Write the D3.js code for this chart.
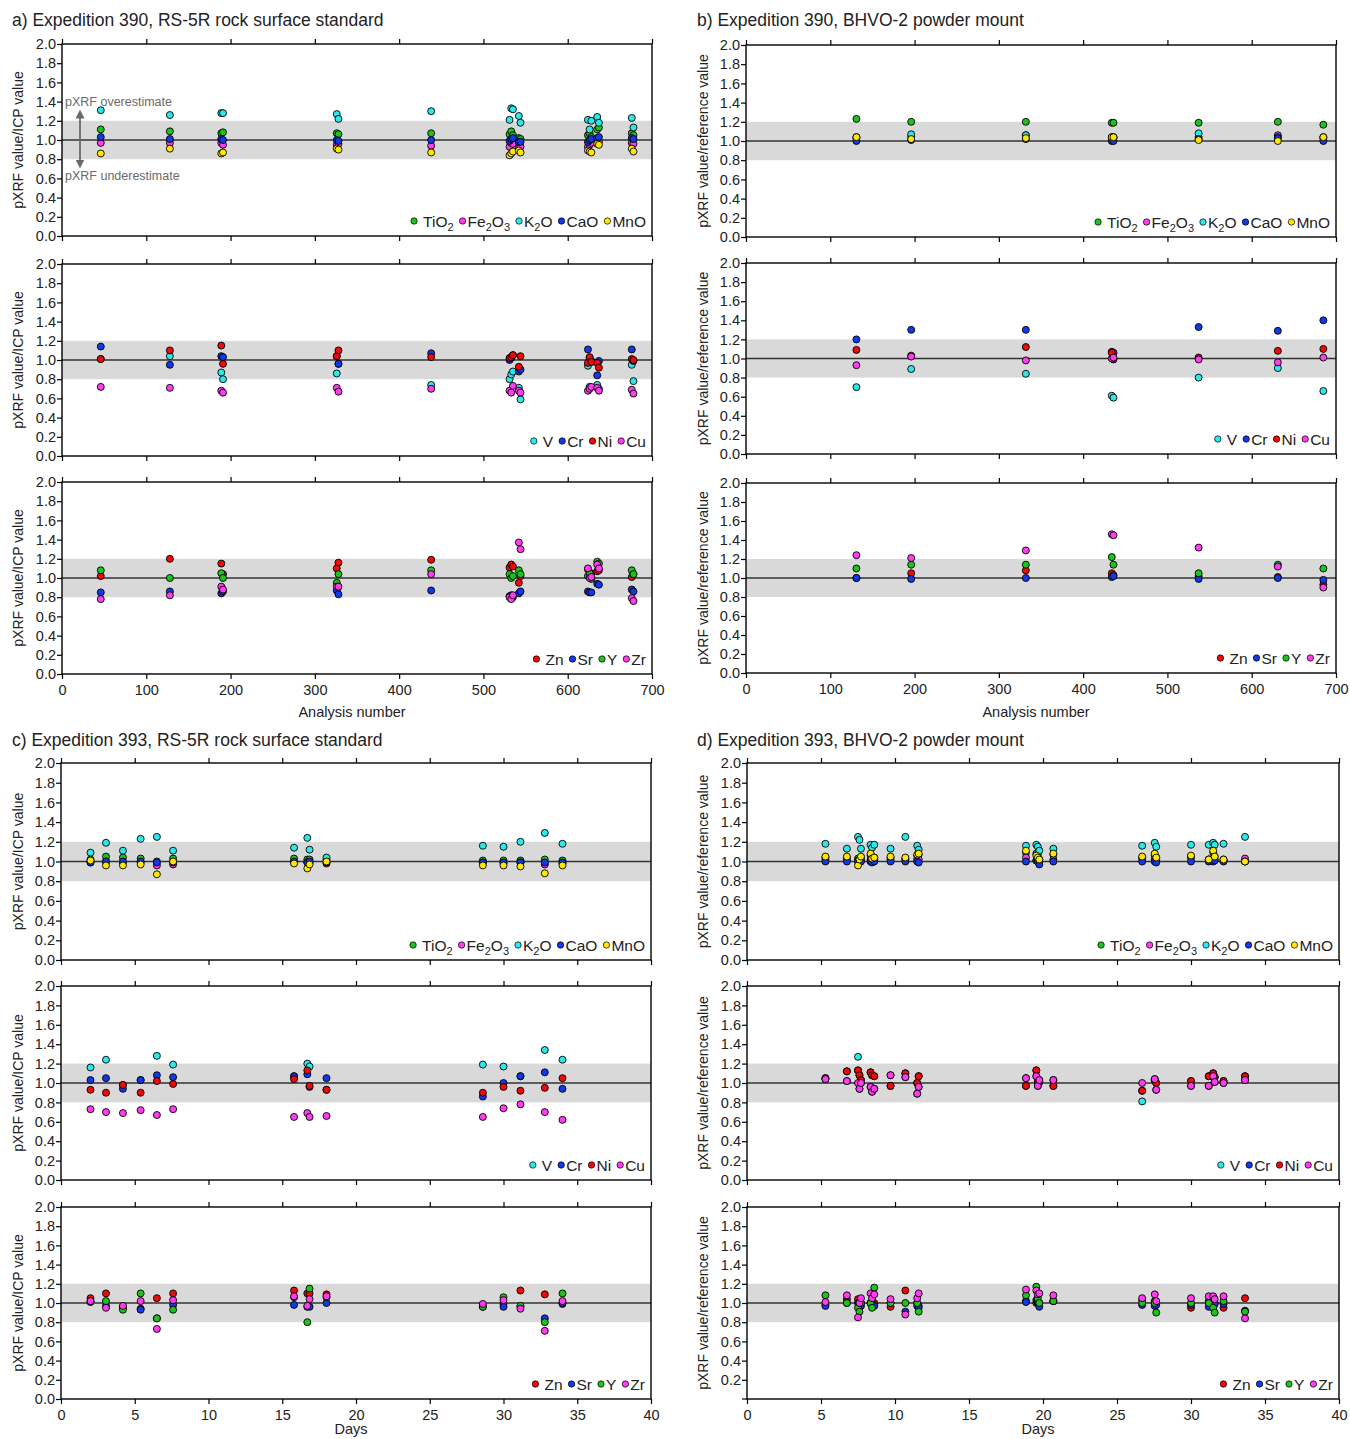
<!DOCTYPE html>
<html>
<head>
<meta charset="utf-8">
<script src="https://cdn.jsdelivr.net/npm/d3@7"></script>
<style>
body{margin:0;background:#fff;}
text{font-family:"Liberation Sans",Arial,Helvetica,sans-serif;fill:#222;}
</style>
</head>
<body>
<svg id="chart" width="1350" height="1439"></svg>
<script>
// ---- Expedition 390, RS-5R (analysis number) ----
let a390x = [46,128,189,191,326,328,438,531,533,535,542,544,624,626,628,635,637,676,678];
let a390TiO2 = [1.11,1.09,1.07,1.08,1.07,1.06,1.07,1.06,1.09,1.05,1.02,1.01,1.05,1.07,1.03,1.11,1.13,1.07,1.05];
let a390Fe2O3 = [0.97,0.97,0.97,0.95,0.95,0.96,0.94,0.93,0.97,0.96,0.92,0.93,0.93,0.95,0.97,0.99,0.98,0.97,0.96];
let a390K2O = [1.31,1.26,1.28,1.28,1.27,1.22,1.30,1.21,1.33,1.32,1.25,1.18,1.21,1.11,1.20,1.24,1.18,1.23,1.13];
let a390CaO = [1.03,1.01,1.01,1.00,1.00,0.99,1.00,0.99,1.01,1.02,0.98,0.98,0.98,1.00,1.01,1.02,1.03,1.02,1.01];
let a390MnO = [0.86,0.91,0.86,0.87,0.91,0.90,0.87,0.84,0.86,0.88,0.89,0.87,0.89,0.88,0.87,0.96,0.95,0.91,0.88];
let a390V = [1.01,1.04,0.87,0.80,0.86,0.96,0.74,0.80,0.85,0.88,0.71,0.59,0.94,0.72,0.98,0.74,0.70,0.95,0.78];
let a390Cr = [1.14,0.95,1.04,1.03,1.04,0.96,1.07,1.00,1.02,1.05,0.88,0.90,1.11,1.02,0.99,0.84,0.99,1.11,0.99];
let a390Ni = [1.01,1.10,1.15,0.96,1.04,1.10,1.03,1.02,1.03,1.05,0.93,1.04,0.97,1.03,0.98,0.97,0.92,1.01,1.00];
let a390Cu = [0.72,0.71,0.68,0.66,0.71,0.67,0.70,0.68,0.66,0.73,0.68,0.66,0.68,0.70,0.72,0.71,0.68,0.69,0.65];
let a390Zn = [1.02,1.20,1.15,1.04,1.10,1.16,1.19,1.11,1.14,1.12,0.95,1.02,1.09,1.02,1.05,1.07,1.08,1.01,1.04];
let a390Sr = [0.85,0.86,0.84,0.86,0.87,0.83,0.87,0.81,0.82,0.80,0.84,0.86,0.86,0.85,0.85,0.94,0.93,0.88,0.86];
let a390Y = [1.08,1.00,1.05,1.00,0.95,1.04,1.08,1.04,1.00,1.02,1.08,1.04,1.02,1.05,0.99,1.17,1.15,1.08,1.04];
let a390Zr = [0.78,0.82,0.91,0.88,0.91,0.91,1.04,0.80,0.78,0.82,1.37,1.30,1.10,1.00,1.01,1.14,1.10,0.79,0.76];

// ---- Expedition 390, BHVO-2 (analysis number) ----
let b390x = [131,196,332,434,436,537,631,685];
let b390TiO2 = [1.23,1.20,1.20,1.19,1.19,1.19,1.20,1.17];
let b390Fe2O3 = [1.03,1.05,1.06,1.03,1.03,1.04,1.06,1.03];
let b390K2O = [1.04,1.07,1.06,1.04,1.04,1.08,1.04,1.04];
let b390CaO = [1.00,1.01,1.02,1.00,1.00,1.02,1.03,1.00];
let b390MnO = [1.04,1.02,1.03,1.04,1.04,1.01,1.00,1.04];
let b390V = [0.70,0.89,0.84,0.61,0.59,0.80,0.90,0.66];
let b390Cr = [1.20,1.30,1.30,1.07,1.06,1.33,1.29,1.40];
let b390Ni = [1.09,1.03,1.12,1.06,0.99,1.01,1.08,1.10];
let b390Cu = [0.93,1.02,0.98,1.00,1.01,0.99,0.96,1.01];
let b390Zn = [1.00,1.05,1.08,1.05,1.03,1.02,1.01,0.93];
let b390Sr = [1.00,0.99,1.00,1.01,1.02,0.99,1.00,0.98];
let b390Y = [1.10,1.14,1.14,1.22,1.14,1.05,1.14,1.10];
let b390Zr = [1.24,1.21,1.29,1.46,1.45,1.32,1.12,0.90];

// ---- Expedition 393, RS-5R (days) ----
let c393days = [2.0,3.05,4.2,5.4,6.5,7.6,15.8,16.7,16.85,18.0,28.6,30.0,31.15,32.8,34.0];
let c393TiO2 = [1.02,1.05,1.04,1.03,1.00,1.03,1.03,1.02,1.02,1.02,1.01,1.01,1.01,1.02,1.01];
let c393Fe2O3 = [0.99,1.00,0.99,0.99,0.96,0.97,0.99,0.99,0.98,0.98,0.99,0.98,0.99,0.97,0.98];
let c393K2O = [1.09,1.19,1.11,1.23,1.25,1.11,1.14,1.24,1.12,1.04,1.16,1.15,1.20,1.29,1.18];
let c393CaO = [0.99,1.00,1.00,1.00,0.99,0.99,1.00,0.99,1.00,0.99,0.99,0.99,0.99,0.99,0.99];
let c393MnO = [1.01,0.96,0.96,0.97,0.87,1.00,0.98,0.93,0.97,1.00,0.96,0.96,0.95,0.88,0.96];
let c393V = [1.16,1.24,0.98,1.03,1.28,1.19,1.07,1.20,1.17,0.93,1.19,1.17,1.07,1.34,1.24];
let c393Cr = [1.03,1.05,0.94,1.03,1.08,1.06,1.07,1.09,0.96,1.05,0.86,1.00,1.07,1.11,0.94];
let c393Ni = [0.93,0.90,0.98,0.90,1.02,0.99,1.04,1.13,0.97,0.93,0.90,0.96,0.92,0.95,1.05];
let c393Cu = [0.73,0.70,0.69,0.72,0.67,0.73,0.65,0.69,0.65,0.66,0.65,0.74,0.78,0.70,0.62];
let c393Zn = [1.05,1.10,0.96,0.94,1.05,1.10,1.13,1.10,1.10,1.09,0.97,0.99,1.13,1.09,0.99];
let c393Sr = [1.01,0.97,0.95,0.93,0.84,0.98,0.98,0.96,0.96,1.00,0.96,0.96,0.96,0.84,1.00];
let c393Y = [1.02,1.02,0.93,1.10,0.84,0.93,1.06,0.80,1.15,1.06,0.96,1.06,0.97,0.80,1.10];
let c393Zr = [1.02,0.95,0.97,1.02,0.73,1.03,1.07,0.97,1.04,1.07,0.99,1.03,0.94,0.71,1.02];

// ---- Expedition 393, BHVO-2 (days) ----
let d393days = [5.3,6.75,7.5,7.6,7.7,8.35,8.45,8.6,9.7,10.7,11.5,11.6,18.85,19.55,19.65,19.75,20.7,26.7,27.55,27.65,30.0,31.2,31.5,31.6,32.2,33.65];
let d393TiO2 = [1.04,1.04,1.03,1.02,1.04,1.06,1.05,1.04,1.04,1.03,1.06,1.07,1.09,1.08,1.07,1.02,1.07,1.04,1.06,1.04,1.05,1.02,1.09,1.05,1.02,1.00];
let d393Fe2O3 = [1.02,1.02,1.01,1.02,1.02,1.02,1.01,1.02,1.02,1.02,1.02,1.02,1.04,1.01,1.02,1.00,1.02,1.03,1.02,1.02,1.04,1.02,1.03,1.02,1.01,1.03];
let d393K2O = [1.18,1.13,1.25,1.22,1.13,1.17,1.14,1.17,1.13,1.25,1.16,1.12,1.16,1.17,1.15,1.11,1.13,1.16,1.19,1.15,1.17,1.17,1.19,1.17,1.18,1.25];
let d393CaO = [1.00,1.00,1.00,0.99,1.00,1.00,0.99,1.00,1.00,1.00,1.00,0.99,1.00,1.01,1.00,0.97,1.00,1.00,1.00,0.99,1.00,1.00,1.00,1.01,1.00,1.00];
let d393MnO = [1.05,1.05,0.96,1.02,1.05,1.08,1.03,1.04,1.05,1.04,1.07,1.08,1.11,1.06,1.04,1.02,1.08,1.05,1.08,1.04,1.06,1.02,1.11,1.05,1.02,1.00];
let d393V = [1.04,1.02,1.27,0.94,1.00,0.96,0.91,0.94,1.08,1.06,0.89,0.96,1.05,1.07,0.97,1.03,1.03,0.81,1.04,0.93,0.97,0.97,1.07,1.01,1.00,1.03];
let d393Cr = [1.05,1.12,1.13,1.08,1.03,1.11,1.08,1.07,0.97,1.10,1.00,1.07,0.97,1.13,1.01,1.01,0.97,0.92,1.03,1.00,1.02,1.07,1.10,1.06,1.02,1.07];
let d393Ni = [1.05,1.12,1.13,1.08,1.03,1.11,1.08,1.07,0.97,1.10,1.00,1.07,0.97,1.13,1.01,1.01,0.97,0.92,1.03,1.00,1.02,1.07,1.10,1.06,1.02,1.07];
let d393Cu = [1.04,1.02,1.00,0.94,1.00,0.96,0.91,0.94,1.08,1.06,0.89,0.96,1.05,1.07,0.97,1.03,1.03,1.00,1.04,0.93,0.97,0.97,1.07,1.01,1.00,1.03];
let d393Zn = [0.98,1.04,1.04,0.99,1.00,1.00,1.00,1.00,0.96,1.13,1.00,0.97,1.02,1.00,1.00,1.00,1.02,1.03,1.02,1.00,0.95,1.02,1.00,1.00,0.95,1.05];
let d393Sr = [0.97,1.00,1.00,1.00,0.97,1.00,1.00,0.97,1.00,0.91,0.97,0.95,1.01,1.03,1.01,0.96,1.02,0.98,0.97,0.98,0.98,0.96,0.98,0.99,0.99,0.92];
let d393Y = [1.08,1.00,0.95,0.91,1.00,1.00,0.95,1.16,1.00,1.00,1.00,0.91,1.08,1.17,1.05,1.00,1.02,1.00,1.00,0.90,1.00,1.00,0.95,0.90,1.02,0.91];
let d393Zr = [1.01,1.08,0.85,1.00,1.05,1.10,1.05,1.09,1.04,0.88,1.05,1.10,1.14,1.13,1.09,1.10,1.08,1.05,1.09,1.02,1.05,1.07,1.07,1.04,1.07,0.84];

let analysisTicks = [0,100,200,300,400,500,600,700];
let dayTicks = [0,5,10,15,20,25,30,35,40];
let yTicks = [0,0.2,0.4,0.6,0.8,1.0,1.2,1.4,1.6,1.8,2.0];

let cGreen='#1dc21d', cMagenta='#ff3cf0', cCyan='#2de8ea', cBlue='#1238e8', cYellow='#ffe800', cRed='#ee0a0a';

let svg = d3.select('#chart');

function majors(p){
    return [
        {label:'TiO_2',color:cGreen,v:p.TiO2},
        {label:'Fe_2O_3',color:cMagenta,v:p.Fe2O3},
        {label:'K_2O',color:cCyan,v:p.K2O},
        {label:'CaO',color:cBlue,v:p.CaO},
        {label:'MnO',color:cYellow,v:p.MnO}];
}
function transition(p){
    return [
        {label:'V',color:cCyan,v:p.V},
        {label:'Cr',color:cBlue,v:p.Cr},
        {label:'Ni',color:cRed,v:p.Ni},
        {label:'Cu',color:cMagenta,v:p.Cu}];
}
function traces(p){
    return [
        {label:'Zn',color:cRed,v:p.Zn},
        {label:'Sr',color:cBlue,v:p.Sr},
        {label:'Y',color:cGreen,v:p.Y},
        {label:'Zr',color:cMagenta,v:p.Zr}];
}

function addLabel(sel,label){ // label with _n subscripts
    let parts = label.split(/_(\d)/);
    parts.forEach((s,i)=>{
        if(!s) return;
        if(i%2===1){
            sel.append('tspan').attr('dy',4.5).attr('font-size',11).text(s);
        } else {
            let t = sel.append('tspan').text(s);
            if(i>0) t.attr('dy',-4.5);
        }
    });
}

function drawPanel(cfg){
    let {left,right,top,bottom} = cfg;
    let g = svg.append('g');
    let x = d3.scaleLinear().domain(cfg.xDomain).range([left,right]);
    let y = d3.scaleLinear().domain([0,2]).range([bottom,top]);

    // tolerance band and 1:1 line
    g.append('rect').attr('x',left).attr('width',right-left)
        .attr('y',y(1.2)).attr('height',y(0.8)-y(1.2)).attr('fill','#d9d9d9');
    g.append('line').attr('x1',left).attr('x2',right).attr('y1',y(1)).attr('y2',y(1))
        .attr('stroke','#333').attr('stroke-width',1.4);

    // axes
    let ya = g.append('g').attr('transform',`translate(${left},0)`)
        .call(d3.axisLeft(y).tickValues(cfg.noZero ? yTicks.slice(1) : yTicks)
            .tickFormat(d3.format('.1f')).tickSize(5).tickPadding(1));
    if(cfg.noZero){
        g.append('line').attr('x1',left-5).attr('x2',left).attr('y1',bottom).attr('y2',bottom)
            .attr('stroke','#000').attr('stroke-width',1.2);
    }
    let xb = g.append('g').attr('transform',`translate(0,${bottom})`)
        .call(d3.axisBottom(x).tickValues(cfg.xTicks).tickSize(5).tickPadding(6)
            .tickFormat(cfg.xLabels ? d3.format('d') : ''));
    let xt = g.append('g').attr('transform',`translate(0,${top})`)
        .call(d3.axisTop(x).tickValues(cfg.xTicks).tickSize(5).tickFormat(''));
    [ya,xb,xt].forEach(a=>{
        a.select('.domain').remove();
        a.selectAll('line').attr('stroke','#000').attr('stroke-width',1.2);
        a.selectAll('text').attr('font-size',14.5).attr('fill','#222')
            .attr('font-family','"Liberation Sans",Arial,sans-serif');
    });
    g.append('rect').attr('x',left).attr('y',top).attr('width',right-left).attr('height',bottom-top)
        .attr('fill','none').attr('stroke','#000').attr('stroke-width',1.4);

    // points
    cfg.series.forEach(s=>{
        g.append('g').selectAll('circle').data(s.v).join('circle')
            .attr('cx',(d,i)=>x(cfg.xs[i])).attr('cy',d=>y(d)).attr('r',3.5)
            .attr('fill',s.color).attr('stroke','#000').attr('stroke-width',0.9);
    });

    // legend
    let lg = g.append('g');
    let cx = 0;
    cfg.series.forEach((s,i)=>{
        lg.append('circle').attr('cx',cx).attr('cy',0).attr('r',3.2)
            .attr('fill',s.color).attr('stroke','#000').attr('stroke-width',0.7);
        let pad = i===0 ? 9 : 5;
        let t = lg.append('text').attr('x',cx+pad).attr('y',5.5).attr('font-size',15.5);
        addLabel(t,s.label);
        cx += pad + t.node().getComputedTextLength() + 9;
    });
    let w = lg.node().getBBox();
    lg.attr('transform',`translate(${right-6-(w.x+w.width)},${bottom-15})`);

    // y title
    g.append('text').attr('transform',`translate(${cfg.yTitleX},${(top+bottom)/2}) rotate(-90)`)
        .attr('text-anchor','middle').attr('dy','0.35em').attr('font-size',14).text(cfg.yTitle);

    if(cfg.xTitle){
        g.append('text').attr('x',(left+right)/2-5).attr('y',cfg.xTitleY).attr('text-anchor','middle')
            .attr('font-size',14.5).text(cfg.xTitle);
    }
    return {x,y,g};
}

let A = {TiO2:a390TiO2,Fe2O3:a390Fe2O3,K2O:a390K2O,CaO:a390CaO,MnO:a390MnO,V:a390V,Cr:a390Cr,Ni:a390Ni,Cu:a390Cu,Zn:a390Zn,Sr:a390Sr,Y:a390Y,Zr:a390Zr};
let B = {TiO2:b390TiO2,Fe2O3:b390Fe2O3,K2O:b390K2O,CaO:b390CaO,MnO:b390MnO,V:b390V,Cr:b390Cr,Ni:b390Ni,Cu:b390Cu,Zn:b390Zn,Sr:b390Sr,Y:b390Y,Zr:b390Zr};
let C = {TiO2:c393TiO2,Fe2O3:c393Fe2O3,K2O:c393K2O,CaO:c393CaO,MnO:c393MnO,V:c393V,Cr:c393Cr,Ni:c393Ni,Cu:c393Cu,Zn:c393Zn,Sr:c393Sr,Y:c393Y,Zr:c393Zr};
let D = {TiO2:d393TiO2,Fe2O3:d393Fe2O3,K2O:d393K2O,CaO:d393CaO,MnO:d393MnO,V:d393V,Cr:d393Cr,Ni:d393Ni,Cu:d393Cu,Zn:d393Zn,Sr:d393Sr,Y:d393Y,Zr:d393Zr};

let blocks = [
    {data:A, xs:a390x, left:62, right:652, rows:[[44,236],[264,456],[482,674]], xDomain:[0,700], xTicks:analysisTicks,
     yTitle:'pXRF value/ICP value', yTitleX:18, xTitle:'Analysis number', xTitleY:717},
    {data:B, xs:b390x, left:746, right:1336, rows:[[45,237],[263,454],[483,673]], xDomain:[0,700], xTicks:analysisTicks,
     yTitle:'pXRF value/reference value', yTitleX:703, xTitle:'Analysis number', xTitleY:717},
    {data:C, xs:c393days, left:61, right:651, rows:[[763,960],[986,1180],[1207,1399]], xDomain:[0,40], xTicks:dayTicks,
     yTitle:'pXRF value/ICP value', yTitleX:18, xTitle:'Days', xTitleY:1434},
    {data:D, xs:d393days, left:747, right:1339, rows:[[763,960],[986,1180],[1207,1399]], xDomain:[0,40], xTicks:dayTicks,
     yTitle:'pXRF value/reference value', yTitleX:703, xTitle:'Days', xTitleY:1434, noZeroLast:true}
];

let panels = [];
blocks.forEach(b=>{
    [majors,transition,traces].forEach((fn,ri)=>{
        let p = drawPanel({
            left:b.left,right:b.right,top:b.rows[ri][0],bottom:b.rows[ri][1],
            xDomain:b.xDomain,xTicks:b.xTicks,xs:b.xs,series:fn(b.data),
            xLabels:ri===2,xTitle:ri===2?b.xTitle:null,xTitleY:b.xTitleY,
            yTitle:b.yTitle,yTitleX:b.yTitleX,noZero:ri===2&&b.noZeroLast
        });
        panels.push(p);
    });
});

// titles
let titles = [
    ['a) Expedition 390, RS-5R rock surface standard',12,26],
    ['b) Expedition 390, BHVO-2 powder mount',697,26],
    ['c) Expedition 393, RS-5R rock surface standard',12,746],
    ['d) Expedition 393, BHVO-2 powder mount',697,746]
];
titles.forEach(t=>{
    svg.append('text').attr('x',t[1]).attr('y',t[2]).attr('font-size',17.5).text(t[0]);
});

// over/underestimate annotation in panel a
let pa = panels[0];
pa.g.append('text').attr('x',65).attr('y',pa.y(1.355)).attr('font-size',12.5).style('fill','#6a6a6a').text('pXRF overestimate');
pa.g.append('text').attr('x',65).attr('y',pa.y(0.585)).attr('font-size',12.5).style('fill','#6a6a6a').text('pXRF underestimate');
let defs = svg.append('defs');
defs.append('marker').attr('id','ah').attr('viewBox','0 0 10 10').attr('refX',5).attr('refY',5)
    .attr('markerWidth',5).attr('markerHeight',5).attr('orient','auto-start-reverse')
    .append('path').attr('d','M0,0 L10,5 L0,10 z').attr('fill','#6a6a6a');
pa.g.append('line').attr('x1',80).attr('x2',80).attr('y1',pa.y(1.27)).attr('y2',pa.y(0.75))
    .attr('stroke','#6a6a6a').attr('stroke-width',1.8)
    .attr('marker-start','url(#ah)').attr('marker-end','url(#ah)');
</script>
</body>
</html>
